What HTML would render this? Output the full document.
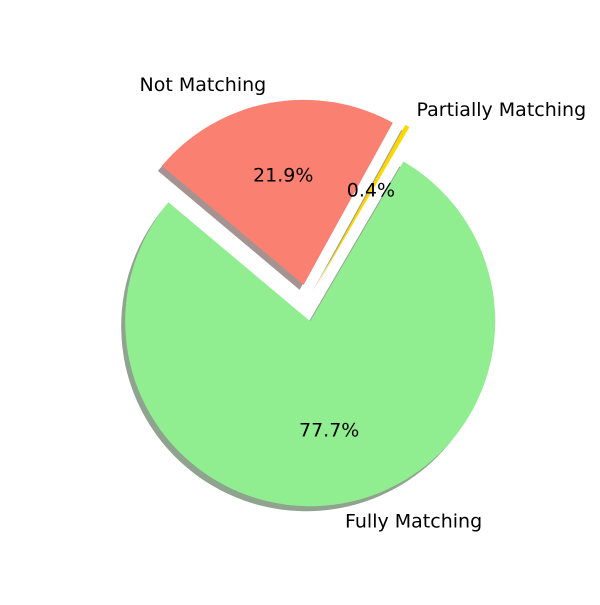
<!DOCTYPE html>
<html><head><meta charset="utf-8"><style>
html,body{margin:0;padding:0;background:#fff;}
svg text{font-family:"DejaVu Sans","Liberation Sans",sans-serif;font-size:19px;fill:#000;}
</style></head><body>
<svg id="chart" width="600" height="600" viewBox="0 0 600 600" xmlns="http://www.w3.org/2000/svg">
<g id="shadows"></g>
<g id="slices"></g>
<g id="labels"></g>
</svg>
<script>
const categories = ["Fully Matching", "Partially Matching", "Not Matching"];
const values = [77.7, 0.4, 21.9];
const explode = [0.1, 0.1, 0.1];
const colors = ["#90ee90", "#ffd700", "#fa8072"];
const shadowColors = ["#8fa38f", "#a6a080", "#a59391"];
const startAngle = 140;
const cx = 307, cy = 303, R = 185;
const svg = document.getElementById('chart');
const gS = document.getElementById('shadows');
const gP = document.getElementById('slices');
const gL = document.getElementById('labels');
const NS = 'http://www.w3.org/2000/svg';
const total = values.reduce((a,b)=>a+b,0);
function pt(x,y,a,r){const t=a*Math.PI/180;return [x+r*Math.cos(t), y-r*Math.sin(t)];}
function path(x,y,a0,a1){
  const p0=pt(x,y,a0,R), p1=pt(x,y,a1,R);
  const large=(a1-a0)>180?1:0;
  return `M${x},${y} L${p0[0]},${p0[1]} A${R},${R} 0 ${large} 0 ${p1[0]},${p1[1]} Z`;
}
let a=startAngle;
values.forEach((v,i)=>{
  const span=v/total*360, a0=a, a1=a+span, mid=(a0+a1)/2;
  a=a1;
  const [x,y]=pt(cx,cy,mid,explode[i]*R);
  const sh=document.createElementNS(NS,'path');
  sh.setAttribute('d',path(x-4,y+5,a0,a1));
  sh.setAttribute('fill',shadowColors[i]);
  
  
  gS.appendChild(sh);
  const p=document.createElementNS(NS,'path');
  p.setAttribute('d',path(x,y,a0,a1));
  p.setAttribute('fill',colors[i]);
  
  
  gP.appendChild(p);
  const lp=pt(x,y,mid,1.1*R);
  const t=document.createElementNS(NS,'text');
  t.setAttribute('x',lp[0]);t.setAttribute('y',lp[1]);
  t.setAttribute('text-anchor',lp[0]>=x?'start':'end');
  t.setAttribute('dominant-baseline','central');
  t.textContent=categories[i];
  
  
  gL.appendChild(t);
  const pp=pt(x,y,mid,0.6*R);
  const pt2=document.createElementNS(NS,'text');
  pt2.setAttribute('x',pp[0]);pt2.setAttribute('y',pp[1]);
  pt2.setAttribute('text-anchor','middle');
  pt2.setAttribute('dominant-baseline','central');
  pt2.textContent=v.toFixed(1)+'%';
  
  
  gL.appendChild(pt2);
});
</script>
</body></html>
